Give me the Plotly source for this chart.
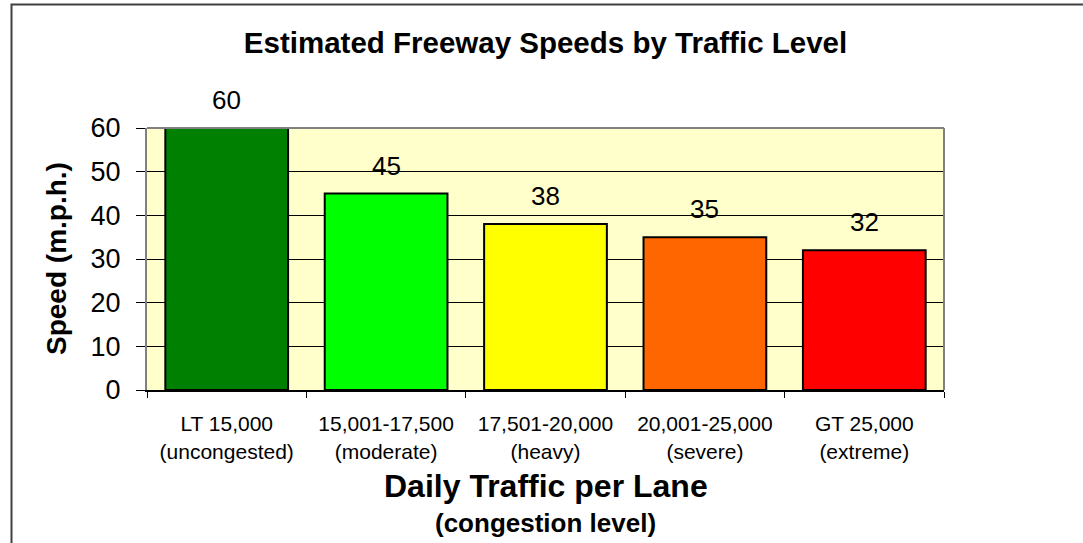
import plotly.graph_objects as go

categories = ["LT 15,000<br>(uncongested)", "15,001-17,500<br>(moderate)",
              "17,501-20,000<br>(heavy)", "20,001-25,000<br>(severe)",
              "GT 25,000<br>(extreme)"]
speeds = [60, 45, 38, 35, 32]
bar_colors = ["#008000", "#00FF00", "#FFFF00", "#FF6600", "#FF0000"]
y_ticks = [0, 10, 20, 30, 40, 50, 60]

FONT = "Arial, Liberation Sans, sans-serif"

fig = go.Figure()
fig.add_trace(go.Bar(
    x=categories, y=speeds,
    marker=dict(color=bar_colors, line=dict(color="#000000", width=2)),
    hoverinfo="skip",
))

# pixel helpers
L, R, T, B = 147, 139, 128, 153
W, H = 1083, 543
pw, ph = W - L - R, H - T - B
def px(x):
    return (x - L) / pw
def py(y):
    return (H - B - y) / ph

annotations = []
for c, v in zip(categories, speeds):
    annotations.append(dict(x=c, y=v, xref="x", yref="y", text=str(v),
                            showarrow=False, yanchor="middle", yshift=28,
                            font=dict(family=FONT, size=26, color="#000")))
annotations.append(dict(x=0.5, y=py(486), xref="paper", yref="paper", text="<b>Daily Traffic per Lane</b>",
                        showarrow=False, yanchor="middle", font=dict(family=FONT, size=32, color="#000")))
annotations.append(dict(x=0.5, y=py(523), xref="paper", yref="paper", text="<b>(congestion level)</b>",
                        showarrow=False, yanchor="middle", font=dict(family=FONT, size=26, color="#000")))
annotations.append(dict(x=px(56), y=0.5, xref="paper", yref="paper", text="<b>Speed (m.p.h.)</b>",
                        showarrow=False, textangle=-90, xanchor="center",
                        font=dict(family=FONT, size=28, color="#000")))

fig.update_layout(
    width=W, height=H,
    margin=dict(l=L, r=R, t=T, b=B),
    paper_bgcolor="#FFFFFF",
    plot_bgcolor="#FFFFCC",
    showlegend=False,
    bargap=0.23,
    title=dict(text="<b>Estimated Freeway Speeds by Traffic Level</b>",
               x=0.5, xref="paper", xanchor="center",
               y=1 - 43 / H, yref="container", yanchor="middle",
               font=dict(family=FONT, size=29.5, color="#000")),
    font=dict(family=FONT, color="#000"),
    annotations=annotations,
    shapes=[
        dict(type="rect", xref="paper", yref="paper", x0=px(11.5), y0=py(900), x1=px(1500), y1=py(4.5),
             line=dict(color="#404040", width=2), fillcolor="rgba(0,0,0,0)", layer="below"),
        dict(type="line", xref="paper", yref="paper", x0=0, x1=1, y0=1, y1=1,
             line=dict(color="#808080", width=2)),
        dict(type="line", xref="paper", yref="paper", x0=1, x1=1, y0=0, y1=1,
             line=dict(color="#808080", width=2)),
    ],
    xaxis=dict(
        type="category",
        showgrid=False,
        showline=True, linecolor="#000000", linewidth=2,
        ticks="outside", tickson="boundaries", ticklen=6, tickcolor="#000", tickwidth=1,
        tickfont=dict(family=FONT, size=21, color="#000"),
        ticklabelstandoff=14,
    ),
    yaxis=dict(
        range=[0, 60],
        tickvals=y_ticks,
        showgrid=True, gridcolor="#000000", gridwidth=1,
        showline=True, linecolor="#808080", linewidth=2,
        ticks="outside", ticklen=9, tickcolor="#000", tickwidth=1,
        tickfont=dict(family=FONT, size=27, color="#000"),
        ticklabelstandoff=10,
        zeroline=False,
    ),
)

fig.write_html("out.html", config={"displayModeBar": False, "staticPlot": True},
               post_script="document.body.style.margin='0';document.body.style.overflow='hidden';")
